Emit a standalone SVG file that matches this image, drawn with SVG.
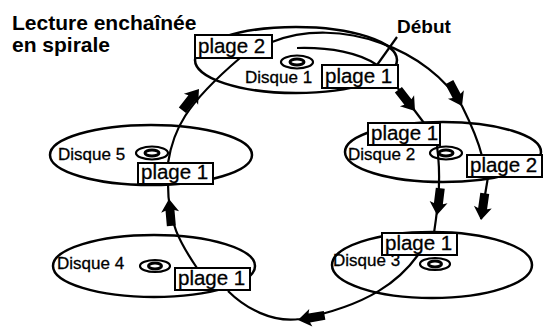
<svg xmlns="http://www.w3.org/2000/svg" xmlns:xlink="http://www.w3.org/1999/xlink" width="543" height="329" viewBox="0 0 543 329">
<style>
.disk{fill:none;stroke:#000;stroke-width:2.5}
.hub{fill:#fff;stroke:#000;stroke-width:2.2}
.hubin{fill:#fff;stroke:#000;stroke-width:3}
.lbl{font-family:"Liberation Sans",Arial,sans-serif;font-size:17px;fill:#000;stroke:#000;stroke-width:0.3}
.box{fill:#fff;stroke:#000;stroke-width:2}
.bt{font-family:"Liberation Sans",Arial,sans-serif;font-size:20.5px;fill:#000;stroke:#000;stroke-width:0.3}
.title{font-family:"Liberation Sans",Arial,sans-serif;font-weight:bold;fill:#000}
.con{fill:none;stroke:#000;stroke-width:2.2}
</style>
<defs>
<path id="ah" d="M0,0 L-13,-9 L-11.5,-4.5 L-27,-4.5 L-27,4.5 L-11.5,4.5 L-13,9 Z" fill="#000"/>
</defs>
<rect width="543" height="329" fill="#fff"/>
<g id="title">
<text class="title" x="12" y="30" font-size="21">Lecture enchaînée</text>
<text class="title" x="12" y="52" font-size="21">en spirale</text>
<text class="title" x="397" y="33" font-size="19">Début</text>
</g>
<g id="disque1">
<ellipse class="disk" cx="296" cy="60" rx="101" ry="33"/>
<ellipse class="hub" cx="297" cy="62" rx="16" ry="6.5"/>
<ellipse class="hubin" cx="297" cy="62" rx="7" ry="3"/>
<text class="lbl" x="245" y="83">Disque 1</text>
</g>
<g id="disque2">
<ellipse class="disk" cx="443" cy="152" rx="98" ry="30"/>
<ellipse class="hub" cx="446" cy="153" rx="16" ry="6.5"/>
<ellipse class="hubin" cx="446" cy="153" rx="7" ry="3"/>
<text class="lbl" x="348" y="160">Disque 2</text>
</g>
<g id="disque3">
<ellipse class="disk" cx="432" cy="265" rx="100" ry="33"/>
<ellipse class="hub" cx="435" cy="264" rx="15" ry="6"/>
<ellipse class="hubin" cx="435" cy="264" rx="6.5" ry="3"/>
<text class="lbl" x="333" y="266">Disque 3</text>
</g>
<g id="disque4">
<ellipse class="disk" cx="154" cy="266" rx="101" ry="31"/>
<ellipse class="hub" cx="155" cy="266" rx="15" ry="6"/>
<ellipse class="hubin" cx="155" cy="266" rx="6.5" ry="3"/>
<text class="lbl" x="57" y="269">Disque 4</text>
</g>
<g id="disque5">
<ellipse class="disk" cx="151" cy="155" rx="101" ry="30"/>
<ellipse class="hub" cx="152" cy="153" rx="16" ry="6.5"/>
<ellipse class="hubin" cx="152" cy="153" rx="7" ry="3"/>
<text class="lbl" x="58" y="160">Disque 5</text>
</g>
<g id="connectors">
<path class="con" d="M297,48 C330,47 360,53 377,65"/>
<path class="con" d="M397,37 L377,65"/>
<path class="con" d="M397,87 L424,123"/>
<path class="con" d="M272,42 C340,15 430,50 462,106 C470,122 478,140 482,156"/>
<path class="con" d="M437,146 C441,175 439,200 434,233"/>
<path class="con" d="M488,177 L481,219"/>
<path class="con" d="M418,255 C400,280 370,305 300,319 C272,323 245,308 228,291"/>
<path class="con" d="M197,268 C180,243 168,222 168,184"/>
<path class="con" d="M168,163 C173,130 185,105 240,58"/>
<use xlink:href="#ah" transform="translate(415,111) rotate(52)"/>
<use xlink:href="#ah" transform="translate(462,106) rotate(62)"/>
<use xlink:href="#ah" transform="translate(437,215) rotate(97)"/>
<use xlink:href="#ah" transform="translate(481,220) rotate(98)"/>
<use xlink:href="#ah" transform="translate(298,320) rotate(170)"/>
<use xlink:href="#ah" transform="translate(169,199) rotate(-95)"/>
<use xlink:href="#ah" transform="translate(199,89) rotate(-52)"/>
</g>
<g id="plage-d1-2"><rect class="box" x="195" y="35" width="77" height="23"/><text class="bt" x="198" y="53">plage 2</text></g>
<g id="plage-d1-1"><rect class="box" x="322" y="65" width="76" height="23"/><text class="bt" x="325" y="83">plage 1</text></g>
<g id="plage-d2-1"><rect class="box" x="368" y="123" width="72" height="22"/><text class="bt" x="371" y="140">plage 1</text></g>
<g id="plage-d2-2"><rect class="box" x="467" y="155" width="75" height="22"/><text class="bt" x="470" y="172">plage 2</text></g>
<g id="plage-d3-1"><rect class="box" x="382" y="233" width="75" height="22"/><text class="bt" x="385" y="250">plage 1</text></g>
<g id="plage-d4-1"><rect class="box" x="175" y="268" width="75" height="22"/><text class="bt" x="178" y="285">plage 1</text></g>
<g id="plage-d5-1"><rect class="box" x="138" y="163" width="75" height="21"/><text class="bt" x="141" y="179">plage 1</text></g>
</svg>
